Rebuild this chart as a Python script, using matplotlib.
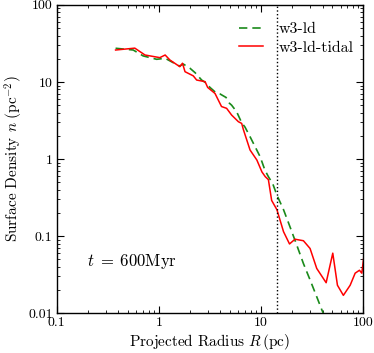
import matplotlib
matplotlib.use('Agg')
import matplotlib.pyplot as plt
from matplotlib.ticker import FuncFormatter, LogLocator
import numpy as np

plt.rcParams.update({
    'font.family': 'cmr10',
    'mathtext.fontset': 'cm',
    'axes.formatter.use_mathtext': True,
    'font.size': 10,
    'axes.linewidth': 1.0,
    'xtick.direction': 'in',
    'ytick.direction': 'in',
    'xtick.top': True,
    'ytick.right': True,
})

# ========== Data ==========
r_ld = [0.376, 0.56, 0.70, 0.95, 1.15, 1.38, 1.6, 1.73, 2.01, 2.26, 2.62, 2.93,
        3.16, 3.6, 3.96, 4.54, 4.9, 5.15, 5.77, 6.46, 6.96, 7.8, 8.73, 9.8,
        10.9, 11.8, 13.0, 14.3, 16.6, 19.2, 22.4, 26.0, 30.2, 35.1, 39.4, 43.0]
n_ld = [27.4, 26.0, 21.8, 19.7, 20.3, 17.8, 16.1, 17.1, 15.1, 13.2, 10.6, 9.6,
        8.5, 7.3, 7.0, 6.3, 5.3, 5.0, 4.1, 2.96, 2.6, 1.95, 1.45, 1.07,
        0.72, 0.59, 0.48, 0.34, 0.22, 0.132, 0.076, 0.044, 0.027, 0.0163, 0.011, 0.0085]

r_tidal = [0.376, 0.58, 0.73, 1.02, 1.15, 1.28, 1.6, 1.7, 1.8, 2.17, 2.34, 2.83,
           3.0, 3.54, 3.67, 4.1, 4.6, 5.15, 6.0, 6.46, 6.7, 7.8, 9.1, 10.2,
           11.0, 11.8, 12.7, 14.3, 16.6, 19.0, 21.5, 26.0, 30.2, 35.1, 43.4,
           50.4, 56.0, 64.0, 74.6, 83.5, 92.0, 97.0, 101.0]
n_tidal = [26.0, 27.5, 22.4, 20.7, 22.4, 19.3, 15.8, 17.5, 13.6, 12.0, 10.6, 10.1,
           8.5, 7.1, 6.45, 4.8, 4.55, 3.72, 3.05, 2.9, 2.43, 1.31, 0.97, 0.68,
           0.59, 0.54, 0.29, 0.22, 0.114, 0.079, 0.091, 0.087, 0.069, 0.038, 0.0248,
           0.06, 0.023, 0.017, 0.023, 0.033, 0.036, 0.033, 0.051]

r_tidal_limit = 14.3

# ========== Plot ==========
fig = plt.figure(figsize=(3.74, 3.53), dpi=100)
ax = fig.add_axes([0.152, 0.113, 0.819, 0.873])

ax.plot(r_ld, n_ld, '--', color='#1a8a1a', lw=1.2, dashes=(5, 3), label='w3-ld')
ax.plot(r_tidal, n_tidal, '-', color='#ff0000', lw=1.1, label='w3-ld-tidal')
ax.axvline(r_tidal_limit, color='black', ls=':', lw=1.0)

ax.set_xscale('log')
ax.set_yscale('log')
ax.set_xlim(0.1, 100)
ax.set_ylim(0.01, 100)

fmt = FuncFormatter(lambda v, p: ('%g' % v))
ax.xaxis.set_major_formatter(fmt)
ax.yaxis.set_major_formatter(fmt)
ax.xaxis.set_minor_locator(LogLocator(base=10, subs=np.arange(2, 10)))
ax.yaxis.set_minor_locator(LogLocator(base=10, subs=np.arange(2, 10)))
ax.tick_params(which='major', length=5, width=0.8, labelsize=10, pad=3)
ax.tick_params(which='minor', length=2.5, width=0.6)

ax.set_xlabel(r'Projected Radius $R\,(\mathrm{pc})$', fontsize=11, labelpad=2)
ax.set_ylabel(r'Surface Density $n\ (\mathrm{pc}^{-2})$', fontsize=11, labelpad=2)

ax.text(0.097, 0.167, r'$t\;=\;600\mathrm{Myr}$', transform=ax.transAxes,
        fontsize=12, va='center', ha='left')

ax.legend(loc='upper right', frameon=False, fontsize=11.5, handlelength=1.5,
          handletextpad=1.0, borderaxespad=0.2, labelspacing=0.25,
          bbox_to_anchor=(1.0, 0.975))

plt.savefig('out.png', dpi=100)
